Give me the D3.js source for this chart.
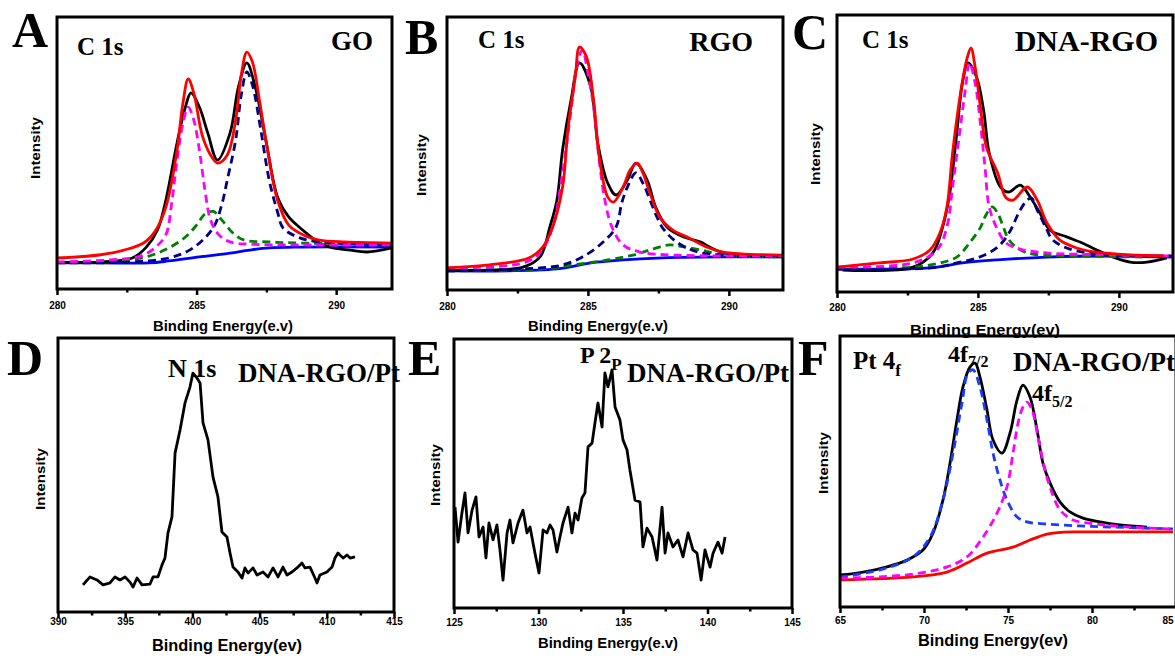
<!DOCTYPE html>
<html>
<head>
<meta charset="utf-8">
<script src="https://cdn.jsdelivr.net/npm/d3@7"></script>
<style>
  html, body { margin: 0; padding: 0; background: #fff; }
  svg { display: block; }
  .serif { font-family: "Liberation Serif", "Times New Roman", serif; font-weight: bold; }
  .sans { font-family: "Liberation Sans", Arial, sans-serif; font-weight: bold; }
</style>
</head>
<body>
<svg id="fig" width="1175" height="658"></svg>
<script>
// ---- Axis ticks (binding energy, eV) ----
const c1sTicks = [280, 285, 290];
const n1sTicks = [390, 395, 400, 405, 410, 415];
const p2pTicks = [125, 130, 135, 140, 145];
const pt4fTicks = [65, 70, 75, 80, 85];

// ---- A: GO, C 1s  [energy (eV), intensity (a.u.)] ----
const goRaw = [[280.0,9.9],[281.5,9.9],[282.7,11.4],[283.2,15.4],[283.6,21.7],[283.9,32.7],[284.3,53.7],[284.6,66.9],[284.8,72.1],[285.1,66.9],[285.4,57.4],[285.75,47.4],[286.2,57.4],[286.5,74.3],[286.8,83.1],[287.1,74.3],[287.5,53.7],[287.9,33.8],[288.3,26.5],[288.8,21.7],[289.4,16.9],[289.9,15.1],[290.5,14.3],[291.1,13.6],[292.0,15.1]];
const goFit = [[280.0,11.4],[281.5,12.5],[282.4,14.3],[283.1,16.9],[283.5,21.0],[283.9,30.1],[284.3,51.1],[284.5,67.6],[284.7,77.2],[284.9,72.1],[285.2,56.6],[285.5,49.3],[285.75,46.3],[286.1,49.3],[286.4,62.1],[286.6,78.7],[286.8,87.1],[287.0,83.5],[287.25,69.5],[287.5,53.7],[287.9,32.7],[288.3,23.5],[288.9,19.5],[289.4,18.0],[290.3,17.3],[292.0,16.9]];
const goCC = [[280.0,9.9],[281.9,10.7],[283.0,12.1],[283.5,15.1],[283.9,19.9],[284.1,30.9],[284.3,47.4],[284.5,60.3],[284.7,66.9],[284.9,62.1],[285.1,51.1],[285.3,36.4],[285.5,25.4],[285.8,19.9],[286.2,17.3],[286.9,16.5],[288.7,16.2],[292.0,16.2]];
const goCO = [[280.0,9.6],[282.6,9.9],[284.0,11.4],[284.75,14.3],[285.3,18.8],[285.65,23.5],[285.9,30.9],[286.1,40.1],[286.4,54.8],[286.6,71.3],[286.8,79.8],[287.0,75.0],[287.3,58.5],[287.6,40.1],[287.9,28.3],[288.1,22.4],[288.7,18.8],[289.4,17.3],[292.0,16.2]];
const goCdO = [[280.0,9.9],[282.25,10.3],[283.3,12.1],[284.0,15.1],[284.6,19.1],[285.0,23.5],[285.3,27.6],[285.6,28.5],[285.9,25.4],[286.3,20.6],[286.7,18.0],[287.6,17.3],[288.7,16.9],[292.0,16.2]];
const goBg = [[280.0,9.6],[281.5,9.6],[283.3,9.6],[284.0,10.3],[285.1,11.8],[286.2,13.2],[286.9,14.3],[287.6,15.1],[288.7,15.4],[292.0,15.4]];

// ---- B: RGO, C 1s ----
const rgoRaw = [[280.0,7.3],[282.7,8.4],[283.3,12.1],[283.65,23.1],[283.9,33.0],[284.1,51.3],[284.4,69.6],[284.7,83.2],[285.1,74.4],[285.35,53.8],[285.7,39.2],[286.0,34.8],[286.4,40.3],[286.7,46.5],[287.1,40.3],[287.4,30.4],[287.8,23.1],[288.4,19.4],[289.0,17.6],[289.3,15.8],[289.8,13.6],[290.4,12.8],[291.9,12.1]];
const rgoFit = [[280.0,8.1],[281.5,9.2],[282.9,11.7],[283.4,15.8],[283.75,23.1],[284.1,37.7],[284.3,59.7],[284.55,78.0],[284.7,89.0],[284.95,85.3],[285.2,69.6],[285.4,48.7],[285.7,34.1],[285.9,32.2],[286.25,37.7],[286.5,44.0],[286.75,46.5],[286.95,42.9],[287.2,35.5],[287.55,26.7],[288.0,22.0],[288.6,19.0],[289.2,15.8],[289.8,13.9],[291.9,12.8]];
const rgoCC = [[280.0,8.1],[282.7,9.9],[283.3,13.6],[283.75,23.1],[284.1,42.9],[284.4,65.9],[284.6,81.7],[284.8,87.9],[285.0,79.5],[285.2,67.0],[285.4,47.6],[285.6,33.0],[285.85,23.1],[286.25,16.5],[286.85,13.9],[288.0,12.8],[291.9,12.5]];
const rgoCO = [[280.0,7.0],[283.3,8.1],[284.1,9.2],[284.8,12.1],[285.5,17.2],[286.0,23.1],[286.2,31.9],[286.4,37.7],[286.7,42.9],[286.95,39.2],[287.2,33.0],[287.45,26.7],[287.7,22.0],[288.2,17.2],[288.9,13.9],[289.8,12.8],[291.9,12.5]];
const rgoCdO = [[280.0,7.0],[283.3,7.7],[284.5,9.2],[285.7,11.0],[286.6,12.8],[287.3,15.0],[287.9,16.5],[288.4,15.8],[289.0,14.7],[289.8,12.8],[291.9,12.1]];
const rgoBg = [[280.0,7.0],[283.9,7.7],[285.1,9.9],[286.25,11.0],[287.45,11.7],[289.8,12.1],[291.9,12.1]];

// ---- C: DNA-RGO, C 1s ----
const dnaRgoRaw = [[280.2,7.9],[282.7,9.0],[283.4,14.1],[283.75,23.5],[284.0,35.7],[284.25,57.4],[284.45,75.5],[284.65,82.7],[284.95,77.6],[285.2,65.7],[285.4,50.2],[285.8,37.9],[286.1,36.1],[286.5,38.6],[286.85,34.3],[287.2,28.5],[287.55,22.4],[288.15,19.9],[288.7,17.7],[289.2,15.2],[289.8,12.6],[290.4,10.8],[291.0,10.8],[291.7,12.3]];
const dnaRgoFit = [[280.0,9.0],[281.5,10.5],[282.7,11.9],[283.3,15.2],[283.65,21.3],[283.9,30.7],[284.1,50.2],[284.4,72.9],[284.6,83.8],[284.75,88.1],[284.9,81.2],[285.1,65.7],[285.3,52.3],[285.7,43.0],[286.0,33.9],[286.25,33.2],[286.75,37.9],[287.1,33.2],[287.45,24.9],[287.9,18.8],[288.5,15.9],[289.2,14.4],[290.4,13.4],[291.6,13.0]];
const dnaRgoCC = [[280.0,9.0],[282.7,10.5],[283.55,15.2],[283.9,23.5],[284.1,37.9],[284.35,57.4],[284.55,72.9],[284.7,82.7],[284.9,75.5],[285.1,59.6],[285.25,45.1],[285.4,30.7],[285.7,22.4],[286.0,17.7],[286.5,15.5],[287.45,14.1],[289.8,13.4],[291.9,13.0]];
const dnaRgoCO = [[280.0,8.3],[283.3,8.7],[284.25,10.5],[285.05,12.6],[285.7,16.2],[286.1,21.3],[286.5,29.6],[286.75,33.2],[286.9,33.9],[287.1,29.6],[287.4,23.5],[287.65,18.8],[288.15,15.9],[288.9,14.1],[289.8,13.4],[291.9,13.0]];
const dnaRgoCN = [[280.0,8.7],[282.7,9.0],[283.65,10.5],[284.25,12.6],[284.7,17.7],[285.1,23.5],[285.25,27.1],[285.5,30.7],[285.7,28.5],[285.9,23.5],[286.1,18.8],[286.5,15.2],[286.95,13.7],[288.6,13.0],[291.0,12.6]];
const dnaRgoBg = [[280.0,8.3],[283.3,8.7],[284.45,10.5],[285.7,11.6],[287.45,12.6],[289.8,13.0],[291.9,12.6]];

// ---- D: DNA-RGO/Pt, N 1s ----
const n1sRaw = [[391.86,9.9],[392.38,12.8],[392.9,11.7],[393.35,9.9],[393.87,10.6],[394.24,12.8],[394.61,11.7],[394.99,12.8],[395.36,10.9],[395.58,9.1],[395.88,12.4],[396.25,9.9],[396.85,10.2],[397.07,12.8],[397.44,12.8],[397.74,17.2],[397.96,19.7],[398.18,28.8],[398.48,34.7],[398.71,58.0],[399.08,66.4],[399.45,76.3],[399.82,82.1],[400.04,87.2],[400.34,85.4],[400.57,83.6],[400.79,69.0],[401.16,62.8],[401.53,49.3],[401.9,42.0],[402.2,29.2],[402.57,27.4],[402.8,21.5],[403.02,16.4],[403.39,14.6],[403.69,12.4],[403.91,16.1],[404.14,14.2],[404.51,16.1],[404.81,13.5],[405.25,14.6],[405.63,12.8],[406.0,16.1],[406.37,12.8],[406.74,16.4],[407.04,13.5],[407.41,14.6],[407.78,16.1],[408.15,17.9],[408.38,16.1],[408.75,16.4],[409.12,12.4],[409.27,10.6],[409.49,13.5],[410.01,14.6],[410.39,16.4],[410.61,19.7],[410.83,21.5],[411.21,19.7],[411.5,20.8],[411.73,19.7],[412.1,20.1]];

// ---- E: DNA-RGO/Pt, P 2p ----
const p2pRaw = [[125.06,37.5],[125.24,24.5],[125.47,35.3],[125.65,42.8],[125.83,27.9],[126.07,36.4],[126.3,41.3],[126.48,26.4],[126.72,30.1],[126.89,18.6],[127.07,31.6],[127.31,25.3],[127.54,30.9],[127.72,21.6],[127.9,10.4],[128.14,27.9],[128.31,32.7],[128.49,24.2],[128.79,31.6],[129.08,36.4],[129.32,27.9],[129.5,30.1],[129.79,20.4],[130.03,13.0],[130.27,29.0],[130.5,27.9],[130.68,30.9],[130.86,29.0],[131.09,20.8],[131.27,26.4],[131.45,31.6],[131.75,37.5],[131.98,27.9],[132.16,35.3],[132.34,32.7],[132.57,40.9],[132.75,42.8],[132.93,59.9],[133.17,61.3],[133.34,68.8],[133.52,76.2],[133.76,67.3],[133.93,87.4],[134.11,82.2],[134.35,88.5],[134.53,74.7],[134.82,69.9],[135.0,62.5],[135.24,58.7],[135.41,51.3],[135.71,40.1],[136.01,39.4],[136.18,22.7],[136.42,29.7],[136.72,26.4],[137.01,17.8],[137.31,37.5],[137.49,20.4],[137.66,27.9],[137.96,22.7],[138.25,25.3],[138.55,19.0],[138.85,27.9],[139.14,21.6],[139.38,20.4],[139.62,10.4],[139.85,21.6],[140.15,15.2],[140.33,20.4],[140.62,24.5],[140.86,20.4],[141.04,26.4]];

// ---- F: DNA-RGO/Pt, Pt 4f ----
const pt4fRaw = [[65.0,11.8],[66.37,12.9],[67.8,14.8],[68.99,17.3],[69.94,21.0],[70.54,27.3],[71.13,39.5],[71.55,53.1],[71.96,69.0],[72.32,81.2],[72.74,88.6],[73.04,90.0],[73.33,84.9],[73.75,72.7],[74.11,61.6],[74.64,56.8],[75.12,64.2],[75.54,76.4],[75.89,81.9],[76.31,77.5],[76.73,65.3],[77.08,53.1],[77.5,45.8],[78.1,38.7],[78.69,35.1],[79.46,32.8],[80.48,31.4],[81.67,30.3],[83.27,29.5]];
const pt4f72 = [[65.0,11.1],[67.38,13.7],[69.35,18.5],[70.36,25.8],[71.13,39.5],[71.73,56.8],[72.26,75.3],[72.62,86.3],[72.92,87.5],[73.33,81.2],[73.75,69.0],[74.11,56.8],[74.52,46.9],[74.94,39.5],[75.54,33.2],[76.13,31.4],[77.32,30.6],[79.29,29.9],[81.25,29.5],[84.82,28.8]];
const pt4f52 = [[65.0,10.7],[67.38,11.1],[69.76,12.5],[71.37,14.8],[72.56,18.5],[73.51,25.8],[74.35,34.7],[74.94,44.3],[75.3,56.8],[75.6,67.9],[75.89,73.8],[76.13,75.6],[76.43,72.7],[76.79,62.7],[77.2,50.6],[77.62,42.1],[78.1,35.8],[78.87,32.1],[80.3,30.6],[82.26,29.5],[84.82,28.8]];
const pt4fBg = [[65.0,10.0],[69.35,11.1],[71.37,12.9],[72.56,16.2],[73.75,19.9],[75.3,22.1],[76.31,24.7],[77.32,26.9],[78.3,27.6],[79.29,27.7],[84.82,27.7]];

// ---- Drawing ----
const svg = d3.select("#fig");
const smooth = d3.curveCatmullRom.alpha(0.5);
const dash = "8,5";

const panels = [
  { id: "A", box: [57, 17, 392, 289], xDomain: [280, 292], ticks: c1sTicks, minor: [282.5, 287.5], pad: 7,
    letter: [12, 47], yTitle: [35, 148], xTitle: { text: "Binding Energy(e.v)", cx: 223, y: 331, w: 140, size: 14 },
    series: [
      { d: goBg, c: "#0000ff" }, { d: goRaw, c: "#000000" },
      { d: goCdO, c: "#008000", dash }, { d: goCO, c: "#000080", dash }, { d: goCC, c: "#ff00ff", dash },
      { d: goFit, c: "#ff0000" } ] },
  { id: "B", box: [447, 17, 783, 290], xDomain: [280, 291.92], ticks: c1sTicks, minor: [282.5, 287.5], pad: 7,
    letter: [405, 54], yTitle: [421, 165], xTitle: { text: "Binding Energy(e.v)", cx: 598, y: 331, w: 140, size: 14 },
    series: [
      { d: rgoBg, c: "#0000ff" }, { d: rgoRaw, c: "#000000" },
      { d: rgoCdO, c: "#008000", dash }, { d: rgoCO, c: "#000080", dash }, { d: rgoCC, c: "#ff00ff", dash },
      { d: rgoFit, c: "#ff0000" } ] },
  { id: "C", box: [837, 15, 1173, 292], xDomain: [280, 291.92], ticks: c1sTicks, minor: [282.5, 287.5], pad: 6,
    letter: [792, 49], yTitle: [815, 154], xTitle: { text: "Binding Energy(ev)", cx: 985, y: 335, w: 150, size: 14 },
    series: [
      { d: dnaRgoBg, c: "#0000ff" }, { d: dnaRgoRaw, c: "#000000" },
      { d: dnaRgoCN, c: "#008000", dash }, { d: dnaRgoCO, c: "#000080", dash }, { d: dnaRgoCC, c: "#ff00ff", dash },
      { d: dnaRgoFit, c: "#ff0000" } ] },
  { id: "D", box: [58, 338, 394, 612], xDomain: [390, 415], ticks: n1sTicks, minor: [392.5, 397.5, 402.5, 407.5, 412.5], pad: 0,
    letter: [7, 375], yTitle: [40, 479], xTitle: { text: "Binding Energy(ev)", cx: 227, y: 651, w: 150, size: 16 },
    series: [ { d: n1sRaw, c: "#000000", linear: true } ] },
  { id: "E", box: [454, 339, 792, 608], xDomain: [125, 145], ticks: p2pTicks, minor: [127.5, 132.5, 137.5, 142.5], pad: 5,
    letter: [408, 375], yTitle: [435, 475], xTitle: { text: "Binding Energy(e.v)", cx: 608, y: 648, w: 140, size: 14 },
    series: [ { d: p2pRaw, c: "#000000", linear: true } ] },
  { id: "F", box: [840, 336, 1176, 607], xDomain: [65, 85], ticks: pt4fTicks, minor: [67.5, 72.5, 77.5, 82.5], pad: 4,
    letter: [798, 375], yTitle: [823, 463], xTitle: { text: "Binding Energy(ev)", cx: 993, y: 646, w: 150, size: 16 },
    series: [
      { d: pt4fBg, c: "#ff0000" }, { d: pt4fRaw, c: "#000000" },
      { d: pt4f72, c: "#1a3cff", dash }, { d: pt4f52, c: "#ff00ff", dash } ] }
];

panels.forEach(p => {
  const [x0, y0, x1, y1] = p.box;
  const g = svg.append("g").attr("class", "panel-" + p.id);
  const x = d3.scaleLinear().domain(p.xDomain).range([x0, x1]);
  const y = d3.scaleLinear().domain([0, 100]).range([y1, y0]);

  g.append("clipPath").attr("id", "clip-" + p.id)
    .append("rect").attr("x", x0).attr("y", y0).attr("width", x1 - x0).attr("height", y1 - y0);

  const plot = g.append("g").attr("clip-path", `url(#clip-${p.id})`);
  p.series.forEach(s => {
    const line = d3.line().x(d => x(d[0])).y(d => y(d[1]))
      .curve(s.linear ? d3.curveLinear : smooth);
    plot.append("path").datum(s.d)
      .attr("d", line)
      .attr("fill", "none")
      .attr("stroke", s.c)
      .attr("stroke-width", 2.8)
      .attr("stroke-linejoin", "round")
      .attr("stroke-dasharray", s.dash || null);
  });

  // frame
  g.append("rect").attr("x", x0).attr("y", y0).attr("width", x1 - x0).attr("height", y1 - y0)
    .attr("fill", "none").attr("stroke", "#000").attr("stroke-width", 3);

  // major ticks with labels
  const major = g.append("g").attr("transform", `translate(0,${y1})`)
    .call(d3.axisBottom(x).tickValues(p.ticks).tickSize(6).tickSizeOuter(0)
      .tickPadding(p.pad).tickFormat(d3.format("d")));
  major.select(".domain").remove();
  major.selectAll(".tick line").attr("stroke", "#000").attr("stroke-width", 2.5);
  major.selectAll(".tick text").attr("class", "sans").attr("font-size", 10).attr("fill", "#000");
  // keep a label sitting on the page edge inside the page
  major.selectAll(".tick text").filter(d => x(d) > 1165).attr("text-anchor", "end").attr("dx", -3);

  // minor ticks
  const minor = g.append("g").attr("transform", `translate(0,${y1})`)
    .call(d3.axisBottom(x).tickValues(p.minor).tickSize(3.5).tickFormat(""));
  minor.select(".domain").remove();
  minor.selectAll(".tick line").attr("stroke", "#000").attr("stroke-width", 2.5);

  // axis titles
  g.append("text").attr("class", "sans")
    .attr("x", p.xTitle.cx).attr("y", p.xTitle.y)
    .attr("text-anchor", "middle").attr("font-size", p.xTitle.size)
    .attr("textLength", p.xTitle.w).attr("lengthAdjust", "spacingAndGlyphs")
    .text(p.xTitle.text);
  g.append("text").attr("class", "sans")
    .attr("transform", `translate(${p.yTitle[0] + 5},${p.yTitle[1]}) rotate(-90)`)
    .attr("text-anchor", "middle").attr("font-size", 13)
    .attr("textLength", 62).attr("lengthAdjust", "spacingAndGlyphs")
    .text("Intensity");

  // panel letter
  g.append("text").attr("class", "serif")
    .attr("x", p.letter[0]).attr("y", p.letter[1])
    .attr("font-size", 50).text(p.id);
});

// in-plot annotations
function label(xp, yp, size, txt, anchor) {
  return svg.append("text").attr("class", "serif")
    .attr("x", xp).attr("y", yp).attr("font-size", size)
    .attr("text-anchor", anchor || "start").text(txt);
}
function labelSub(xp, yp, size, main, sub, subSize, subDy) {
  const t = svg.append("text").attr("class", "serif")
    .attr("x", xp).attr("y", yp).attr("font-size", size);
  t.append("tspan").text(main);
  t.append("tspan").attr("font-size", subSize).attr("dy", subDy).text(sub);
  return t;
}

label(77, 55, 25, "C 1s");
label(373, 50, 27, "GO", "end");
label(478, 48, 25, "C 1s");
label(753, 51, 28, "RGO", "end");
label(862, 48, 25, "C 1s");
label(1158, 51, 30, "DNA-RGO", "end");

label(168, 377, 26, "N 1s");
label(238, 382, 27, "DNA-RGO/Pt");

labelSub(580, 363, 24, "P 2", "P", 17, 7);
label(627, 382, 27, "DNA-RGO/Pt");

labelSub(853, 369, 25, "Pt 4", "f", 17, 7);
labelSub(948, 362, 24, "4f", "7/2", 16, 5);
label(1013, 371, 27, "DNA-RGO/Pt");
labelSub(1032, 401, 24, "4f", "5/2", 16, 6);
</script>
</body>
</html>
